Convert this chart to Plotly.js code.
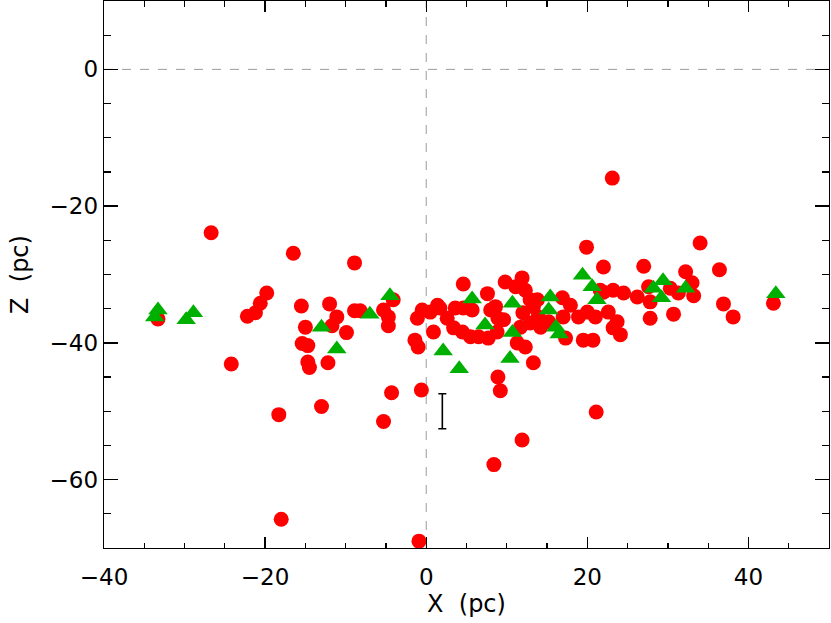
<!DOCTYPE html>
<html>
<head>
<meta charset="utf-8">
<script src="https://cdn.plot.ly/plotly-3.0.1.min.js"></script>
<style>html,body{margin:0;padding:0;background:#fff;}#chart{width:831px;height:623px;}</style>
</head>
<body>
<div id="chart"></div>
<script>
// Red circles: X (pc), Z (pc)
const redX = [-33.3,-26.7,-24.2,-22.2,-21.2,-20.6,-19.8,-16.5,-18.3,-18.0,-15.5,-15.0,-15.4,-14.7,-14.7,-14.5,-12.2,-12.0,-11.7,-11.1,-9.9,-8.9,-8.9,-8.2,-5.3,-4.7,-4.7,-4.1,-13.0,-5.3,-4.3,-0.6,-0.9,-1.4,-1.0,-1.1,-0.5,0.9,1.4,0.5,1.7,2.6,3.6,4.6,5.7,3.4,4.5,5.5,6.5,7.7,8.8,8.9,4.6,7.6,8.0,9.8,11.9,12.3,11.1,8.6,9.6,11.3,12.3,13.3,8.9,9.2,11.9,8.4,21.1,12.0,13.3,13.9,12.9,14.2,11.7,13.8,12.9,16.9,17.9,18.9,20.0,21.0,19.5,20.7,17.3,17.0,23.1,19.9,22.0,27.0,32.2,34.0,36.4,36.9,38.1,43.1,22.0,23.2,24.5,26.2,27.6,30.3,31.3,33.0,33.2,27.8,27.8,30.7,22.6,23.7,23.2,24.1,21.6,15.2];
const redZ = [-36.5,-23.9,-43.1,-36.1,-35.6,-34.2,-32.7,-26.9,-50.5,-65.8,-34.6,-37.7,-40.1,-40.4,-42.8,-43.6,-42.9,-34.3,-37.5,-36.2,-38.5,-28.3,-35.3,-35.3,-35.2,-36.2,-37.5,-33.7,-49.3,-51.5,-47.3,-46.9,-69.0,-39.6,-40.6,-36.4,-35.2,-38.4,-34.5,-35.5,-34.9,-36.4,-34.9,-34.9,-35.2,-37.8,-38.4,-39.1,-39.1,-39.3,-38.4,-36.4,-31.4,-32.8,-35.2,-31.1,-30.5,-32.3,-31.8,-34.7,-36.6,-40.0,-40.6,-42.9,-45.0,-47.0,-54.2,-57.8,-50.1,-35.6,-34.7,-36.2,-37.1,-37.7,-37.7,-33.7,-33.7,-33.4,-34.5,-36.2,-35.5,-36.2,-39.6,-39.6,-39.3,-36.2,-15.9,-26.0,-28.9,-28.8,-29.6,-25.4,-29.3,-34.3,-36.2,-34.2,-32.6,-32.3,-32.7,-33.3,-31.8,-32.0,-32.7,-31.2,-33.1,-34.0,-36.4,-35.8,-35.5,-36.9,-37.8,-38.8,-32.3,-36.9];

// Green triangles: X (pc), Z (pc)
const greenX = [-33.3,-33.7,-29.8,-28.9,-13.0,-11.1,-7.0,-4.5,2.1,4.1,5.7,7.3,10.7,10.7,10.4,15.4,15.2,16.1,16.5,19.4,20.6,21.2,28.2,29.4,29.2,32.2,43.4];
const greenZ = [-35.2,-36.2,-36.6,-35.6,-37.7,-40.9,-35.8,-33.1,-41.2,-43.8,-33.6,-37.4,-34.2,-38.5,-42.3,-33.3,-35.2,-37.7,-38.7,-30.1,-31.8,-33.7,-32.0,-30.9,-33.4,-32.0,-32.8];

// Typical error bar
const errX = [2.0];
const errZ = [-50.0];
const errSize = [2.55];

const xTicks = [-40,-20,0,20,40];
const zTicks = [-60,-40,-20,0];

const FONT = 'DejaVu Sans, sans-serif';

const traces = [
  {type:'scatter', mode:'markers', x:redX, y:redZ, cliponaxis:true,
   marker:{symbol:'circle', size:15, color:'#ff0000', line:{width:0}}, hoverinfo:'x+y'},
  {type:'scatter', mode:'markers', x:greenX, y:greenZ, cliponaxis:true,
   marker:{symbol:'triangle-up', size:17, color:'#00b000', line:{width:0}}, hoverinfo:'x+y'},
  {type:'scatter', mode:'markers', x:errX, y:errZ,
   marker:{size:1, color:'rgba(0,0,0,0)'},
   error_y:{type:'data', array:errSize, visible:true, color:'#000', thickness:1.6, width:4}}
];

const axisCommon = {
  showline:true, linecolor:'#000', linewidth:1.3, mirror:'ticks',
  ticks:'inside', tickcolor:'#000', tickwidth:1.3,
  showgrid:false, zeroline:false,
  tickfont:{family:FONT, size:23, color:'#000'}
};

const layout = {
  width:831, height:623,
  margin:{l:104, r:2, t:1, b:75},
  paper_bgcolor:'#fff', plot_bgcolor:'#fff',
  showlegend:false,
  xaxis:Object.assign({}, axisCommon, {
    range:[-40,50], tickvals:xTicks, ticklen:11, ticklabelstandoff:8,
    minor:{dtick:5, tick0:0, ticks:'inside', ticklen:5.5, tickcolor:'#000', tickwidth:1.3},
    title:{text:'X  (pc)', font:{family:FONT, size:24, color:'#000'}, standoff:6}
  }),
  yaxis:Object.assign({}, axisCommon, {
    range:[-70,10], tickvals:zTicks, ticklen:14,
    minor:{dtick:5, tick0:0, ticks:'inside', ticklen:7, tickcolor:'#000', tickwidth:1.3},
    title:{text:'Z  (pc)', font:{family:FONT, size:24, color:'#000'}, standoff:14}
  }),
  shapes:[
    {type:'line', xref:'x', yref:'paper', x0:0, x1:0, y0:0, y1:1, line:{color:'#9a9a9a', width:1, dash:'dash'}, layer:'below'},
    {type:'line', xref:'paper', yref:'y', x0:0, x1:1, y0:0, y1:0, line:{color:'#9a9a9a', width:1, dash:'dash'}, layer:'below'}
  ]
};

Plotly.newPlot('chart', traces, layout, {displayModeBar:false, staticPlot:true});
</script>
</body>
</html>
